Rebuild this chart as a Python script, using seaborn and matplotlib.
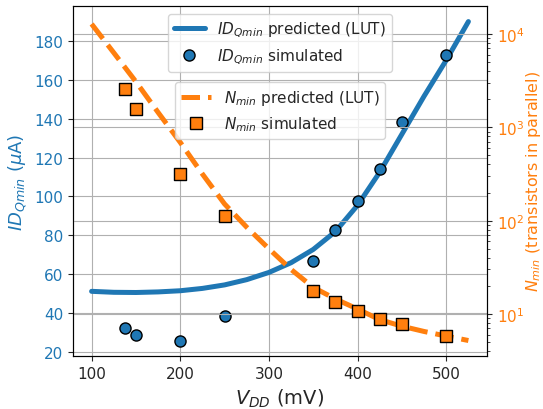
import matplotlib
matplotlib.use("Agg")
import matplotlib.pyplot as plt
import seaborn as sns
from matplotlib.lines import Line2D

sns.set_style("ticks")
plt.rcParams['font.family'] = ['DejaVu Sans']

# predicted (LUT) curves
vdd_pred = [100, 125, 150, 175, 200, 225, 250, 275, 300, 325, 350, 375, 400, 425, 450, 475, 500, 525]
id_pred = [51.3, 50.8, 50.7, 51.0, 51.6, 52.8, 54.6, 57.3, 61.0, 66.0, 72.8, 82.0, 95.5, 112.5, 132.0, 151.5, 170.0, 189.8]
n_pred = [12800, 6300, 3080, 1445, 690, 316, 151, 85, 50, 30, 19.3, 14.5, 11.3, 8.7, 7.4, 6.5, 5.8, 5.2]

# simulated points
vdd_sim = [138, 150, 200, 250, 350, 375, 400, 425, 450, 500]
id_sim = [32.5, 28.9, 26.0, 38.5, 66.7, 82.8, 97.5, 114.1, 138.4, 172.8]
n_sim = [2570, 1570, 316, 113, 17.6, 13.5, 10.7, 8.8, 7.8, 5.8]

blue = '#1f77b4'
orange = '#ff7f0e'

fig, ax1 = plt.subplots(figsize=(5.43, 4.10), dpi=100)
fig.subplots_adjust(left=0.1344, right=0.8969, top=0.9829, bottom=0.1293)
ax2 = ax1.twinx()

sns.lineplot(x=vdd_pred, y=id_pred, ax=ax1, color=blue, lw=3.6, legend=False)
sns.scatterplot(x=vdd_sim, y=id_sim, ax=ax1, color=blue, marker='o', s=64,
                edgecolor='black', linewidth=1, zorder=5, legend=False)

ax2.set_yscale('log')
sns.lineplot(x=vdd_pred, y=n_pred, ax=ax2, color=orange, lw=3.6, linestyle='--', legend=False)
sns.scatterplot(x=vdd_sim, y=n_sim, ax=ax2, color=orange, marker='s', s=72,
                edgecolor='black', linewidth=1, zorder=5, legend=False)

ax1.set_xlim(79, 546)
ax1.set_ylim(18.1, 197.8)
ax2.set_ylim(3.55, 19950)
ax1.set_yticks([20, 40, 60, 80, 100, 120, 140, 160, 180])
ax1.set_xticks([100, 200, 300, 400, 500])

ax1.grid(True, color='#b0b0b0', lw=0.8)
ax2.grid(True, which='major', color='#b0b0b0', lw=0.8)

ax1.tick_params(axis='y', labelcolor=blue, labelsize=11)
ax1.tick_params(axis='x', labelsize=11)
ax2.tick_params(axis='y', labelcolor=orange, labelsize=11)

ax1.set_xlabel('$V_{DD}$ (mV)', fontsize=14)
ax1.set_ylabel('$ID_{Qmin}$ ($\\mu$A)', fontsize=13, color=blue)
ax2.set_ylabel('$N_{min}$ (transistors in parallel)', fontsize=11.5, color=orange, labelpad=0)

for sp in ax2.spines.values():
    sp.set_color('black')

h1 = [Line2D([0], [0], color=blue, lw=3.6),
      Line2D([0], [0], color=blue, marker='o', ls='none', markersize=8, markeredgecolor='black')]
l1 = ['$ID_{Qmin}$ predicted (LUT)', '$ID_{Qmin}$ simulated']
h2 = [Line2D([0], [0], color=orange, lw=3.6, ls='--'),
      Line2D([0], [0], color=orange, marker='s', ls='none', markersize=8.5, markeredgecolor='black')]
l2 = ['$N_{min}$ predicted (LUT)', '$N_{min}$ simulated']

leg1 = ax2.legend(h1, l1, loc='upper center', fontsize=11)
ax2.add_artist(leg1)
ax2.legend(h2, l2, loc='upper center', bbox_to_anchor=(0.5, 0.805), fontsize=11)

fig.savefig('out.png', dpi=100)
